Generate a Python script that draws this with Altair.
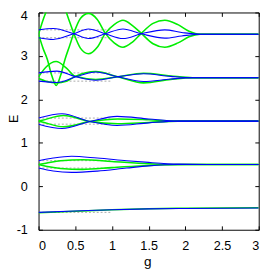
import altair as alt
import pandas as pd

# ---- data ----
# band E ~ 3.5
G35_g = [0, 0.06, 0.12, 0.18, 0.24, 0.30, 0.36, 0.42, 0.48, 0.57, 0.68, 0.80, 0.91, 1.03, 1.15, 1.28, 1.40, 1.56, 1.72, 1.90, 2.05, 2.20, 3.0]
G35a_E = [3.50, 3.82, 4.10, 4.45, 4.68, 4.45, 4.10, 3.80, 3.52, 3.18, 3.05, 3.20, 3.52, 3.72, 3.82, 3.70, 3.52, 3.28, 3.20, 3.30, 3.44, 3.50, 3.50]
G35b_E = [3.50, 3.18, 2.92, 2.55, 2.32, 2.55, 2.92, 3.22, 3.52, 3.86, 3.98, 3.84, 3.52, 3.30, 3.20, 3.32, 3.52, 3.75, 3.82, 3.72, 3.57, 3.50, 3.50]
B35_g = [0, 0.20, 0.48, 0.68, 0.91, 1.15, 1.40, 1.72, 1.95, 2.20, 3.0]
B35a_E = [3.60, 3.63, 3.51, 3.40, 3.51, 3.62, 3.51, 3.41, 3.46, 3.50, 3.50]
B35b_E = [3.42, 3.38, 3.51, 3.62, 3.51, 3.40, 3.51, 3.60, 3.54, 3.50, 3.50]

# band E ~ 2.5
G25_g = [0, 0.10, 0.24, 0.38, 0.50, 0.78, 1.08, 1.43, 1.80, 2.10, 3.0]
G25a_E = [2.52, 2.74, 2.87, 2.72, 2.53, 2.46, 2.52, 2.60, 2.54, 2.50, 2.50]
G25b_E = [2.48, 2.42, 2.38, 2.42, 2.53, 2.64, 2.52, 2.38, 2.46, 2.50, 2.50]
B25_g = [0, 0.25, 0.51, 0.78, 1.08, 1.43, 1.80, 2.10, 3.0]
B25a_E = [2.61, 2.65, 2.52, 2.44, 2.52, 2.59, 2.53, 2.50, 2.50]
B25b_E = [2.42, 2.39, 2.52, 2.63, 2.52, 2.41, 2.47, 2.50, 2.50]

# band E ~ 1.5
G15_g = [0, 0.05, 0.34, 0.70, 1.08, 1.50, 1.90, 3.0]
G15a_E = [1.50, 1.52, 1.63, 1.49, 1.44, 1.47, 1.50, 1.50]
G15b_E = [1.50, 1.48, 1.37, 1.49, 1.55, 1.53, 1.50, 1.50]
B15_g = [0, 0.32, 0.70, 1.07, 1.50, 1.90, 3.0]
B15a_E = [1.57, 1.67, 1.49, 1.40, 1.46, 1.50, 1.50]
B15b_E = [1.43, 1.33, 1.49, 1.61, 1.55, 1.50, 1.50]

# band E ~ 0.5
G05_g = [0, 0.10, 0.30, 0.60, 1.00, 1.50, 2.00, 3.0]
G05a_E = [0.50, 0.53, 0.59, 0.61, 0.57, 0.52, 0.50, 0.50]
G05b_E = [0.50, 0.46, 0.41, 0.39, 0.43, 0.48, 0.50, 0.50]
B05_g = [0, 0.20, 0.45, 0.80, 1.20, 1.50, 1.90, 2.30, 3.0]
B05a_E = [0.59, 0.65, 0.69, 0.65, 0.59, 0.55, 0.51, 0.50, 0.50]
B05b_E = [0.42, 0.35, 0.32, 0.35, 0.42, 0.47, 0.50, 0.50, 0.50]

# band E ~ -0.5
M_g = [0, 0.5, 1.0, 1.5, 2.0, 3.0]
Gm_E = [-0.61, -0.575, -0.54, -0.515, -0.505, -0.495]
Bm_E = [-0.60, -0.57, -0.54, -0.52, -0.51, -0.50]

# dotted reference levels (values at g = 0), drawn from g = 0 to g = 1
REF_E = [3.60, 3.42, 2.61, 2.42, 1.57, 1.43, 0.59, 0.42, -0.60]
REF_G0 = 0.0
REF_G1 = 1.0

X_TICKS = [0, 0.5, 1, 1.5, 2, 2.5, 3]
Y_TICKS = [-1, 0, 1, 2, 3, 4]

green_curves = [("g35a", G35_g, G35a_E), ("g35b", G35_g, G35b_E),
                ("g25a", G25_g, G25a_E), ("g25b", G25_g, G25b_E),
                ("g15a", G15_g, G15a_E), ("g15b", G15_g, G15b_E),
                ("g05a", G05_g, G05a_E), ("g05b", G05_g, G05b_E),
                ("gm", M_g, Gm_E)]
blue_curves = [("b35a", B35_g, B35a_E), ("b35b", B35_g, B35b_E),
               ("b25a", B25_g, B25a_E), ("b25b", B25_g, B25b_E),
               ("b15a", B15_g, B15a_E), ("b15b", B15_g, B15b_E),
               ("b05a", B05_g, B05a_E), ("b05b", B05_g, B05b_E),
               ("bm", M_g, Bm_E)]


def frame(curves):
    rows = []
    for name, gs, es in curves:
        for i, (g, e) in enumerate(zip(gs, es)):
            rows.append({"g": g, "E": e, "curve": name, "i": i})
    return pd.DataFrame(rows)


green_df = frame(green_curves)
blue_df = frame(blue_curves)
ref_df = pd.DataFrame({"E": REF_E, "g0": [REF_G0] * len(REF_E), "g1": [REF_G1] * len(REF_E)})

FONT = "Liberation Sans"
xs = alt.Scale(domain=[0, 3], nice=False, zero=False)
ys = alt.Scale(domain=[-1, 4], nice=False, zero=False)

x_bottom = alt.Axis(orient="bottom", values=X_TICKS, offset=-4, tickSize=4, domain=False, grid=False,
                    labelPadding=10, labelFont=FONT, labelFontSize=13, labelColor="black",
                    labelExpr="'' + datum.value", tickColor="black",
                    title="g", titleFont=FONT, titleFontSize=14, titleFontWeight="normal", titleColor="black",
                    titleX=112, titleY=40.5, titleBaseline="alphabetic", titleAlign="center")
y_left = alt.Axis(orient="left", values=Y_TICKS, offset=-4, tickSize=4, domain=False, grid=False,
                  labelPadding=11.5, labelFont=FONT, labelFontSize=13, labelColor="black",
                  labelExpr="'' + datum.value", tickColor="black",
                  labelOffset={"condition": {"test": "datum.value === 4", "value": 3.5}, "value": 0},
                  title="E", titleFont=FONT, titleFontSize=13, titleFontWeight="normal", titleColor="black",
                  titleAngle=270, titleX=-26, titleY=109, titleBaseline="alphabetic", titleAlign="center")
x_top = alt.Axis(orient="top", values=X_TICKS, offset=-4, tickSize=4, domain=False, grid=False,
                 labels=False, title=None, tickColor="black")
y_right = alt.Axis(orient="right", values=Y_TICKS, offset=-4, tickSize=4, domain=False, grid=False,
                   labels=False, title=None, tickColor="black")

refs = alt.Chart(ref_df).mark_rule(color="#a8a8a8", strokeWidth=1, strokeDash=[2, 2]).encode(
    x=alt.X("g0:Q", scale=xs, axis=x_top),
    x2="g1:Q",
    y=alt.Y("E:Q", scale=ys, axis=y_right),
)

green = alt.Chart(green_df).mark_line(color="#00ee00", strokeWidth=1.6, interpolate="monotone", clip=True).encode(
    x=alt.X("g:Q", scale=xs, axis=x_bottom),
    y=alt.Y("E:Q", scale=ys, axis=y_left),
    detail="curve:N",
    order="i:Q",
)

blue = alt.Chart(blue_df).mark_line(color="#0000ff", strokeWidth=1.1, interpolate="monotone", clip=True).encode(
    x=alt.X("g:Q", scale=xs, axis=None),
    y=alt.Y("E:Q", scale=ys, axis=None),
    detail="curve:N",
    order="i:Q",
)

chart = alt.layer(refs, green, blue).resolve_axis(x="independent", y="independent").properties(
    width=227, height=224, autosize="none",
    padding={"left": 31.5, "top": 0.5, "right": 7.5, "bottom": 42},
).configure_view(stroke="black", strokeWidth=1)

chart.save("out.html", embed_options={"renderer": "svg", "actions": False})
